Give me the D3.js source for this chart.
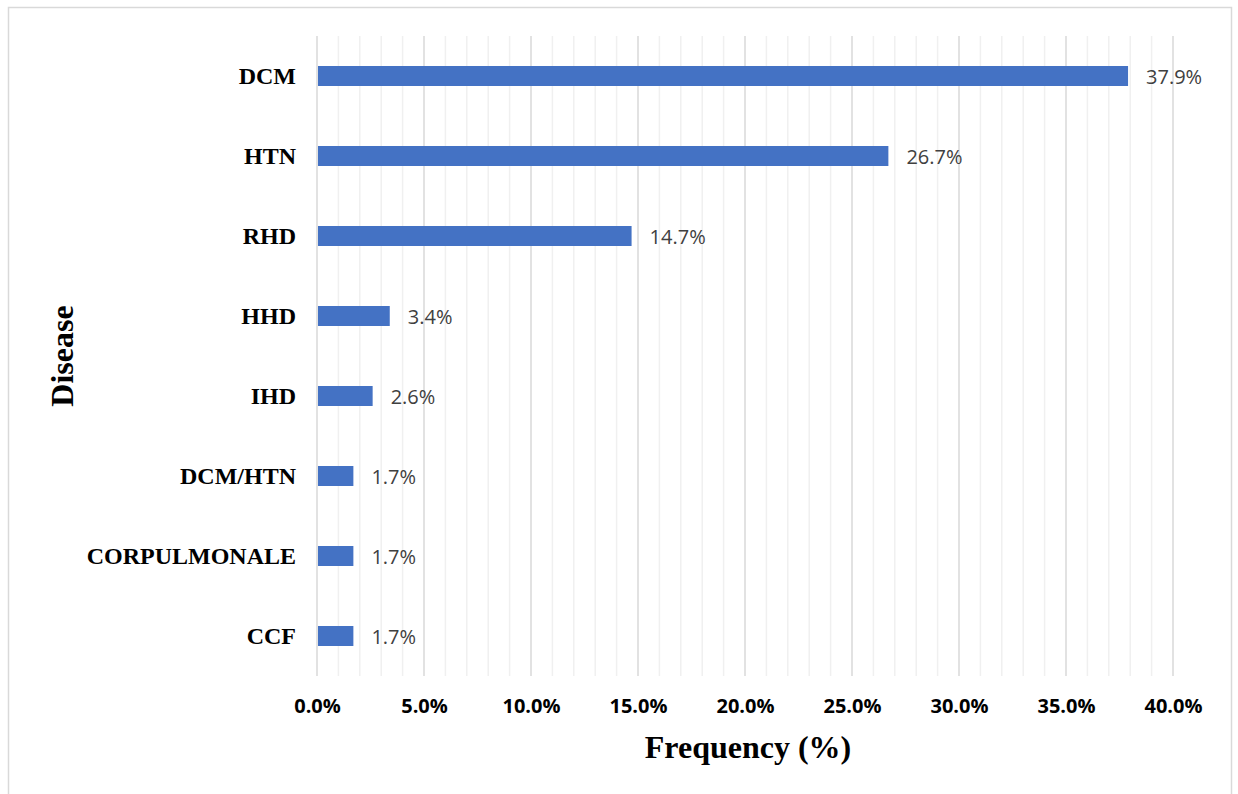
<!DOCTYPE html>
<html>
<head>
<meta charset="utf-8">
<script src="https://cdn.jsdelivr.net/npm/d3@7"></script>
<style>
  html, body { margin: 0; padding: 0; background: #fff; }
  svg { display: block; }
</style>
</head>
<body>
<svg id="chart" width="1238" height="794"></svg>
<script>
// Disease frequency (%) among patients
const categories = ["DCM", "HTN", "RHD", "HHD", "IHD", "DCM/HTN", "CORPULMONALE", "CCF"];
const frequency  = [37.9, 26.7, 14.7, 3.4, 2.6, 1.7, 1.7, 1.7];
const majorTicks = [0, 5, 10, 15, 20, 25, 30, 35, 40];
const xTitle = "Frequency (%)";
const yTitle = "Disease";

const svg = d3.select("#chart");

// outer chart frame
svg.append("rect")
  .attr("x", 8.5).attr("y", 7.5)
  .attr("width", 1223).attr("height", 800)
  .attr("fill", "none").attr("stroke", "#d9d9d9").attr("stroke-width", 1.5);

const plot = { left: 317, right: 1173, top: 36, bottom: 676 };

const x = d3.scaleLinear().domain([0, 40]).range([plot.left, plot.right]);
const y = d3.scaleBand().domain(categories).range([plot.top, plot.bottom]).paddingInner(0.75).paddingOuter(0.375);

// minor gridlines every 1%
const minor = d3.range(0, 41, 1).filter(v => v % 5 !== 0);
svg.append("g").selectAll("line").data(minor).join("line")
  .attr("x1", d => x(d)).attr("x2", d => x(d))
  .attr("y1", plot.top).attr("y2", plot.bottom)
  .attr("stroke", "#f0f0f0").attr("stroke-width", 1.5);

// major gridlines every 5%
svg.append("g").selectAll("line").data(majorTicks).join("line")
  .attr("x1", d => x(d)).attr("x2", d => x(d))
  .attr("y1", plot.top).attr("y2", plot.bottom)
  .attr("stroke", "#d9d9d9").attr("stroke-width", 1.5);

// bars
svg.append("g").selectAll("rect").data(categories).join("rect")
  .attr("x", x(0) + 1)
  .attr("y", d => y(d))
  .attr("width", (d, i) => x(frequency[i]) - x(0) - 1)
  .attr("height", y.bandwidth())
  .attr("fill", "#4472c4");

// value labels
svg.append("g").selectAll("text").data(categories).join("text")
  .attr("x", (d, i) => x(frequency[i]) + 18)
  .attr("y", d => y(d) + y.bandwidth() / 2 + 8)
  .attr("font-family", "'Open Sans', sans-serif")
  .attr("font-size", 20)
  .attr("fill", "#404040")
  .text((d, i) => frequency[i].toFixed(1) + "%");

// category labels
const yAxis = d3.axisLeft(y).tickSize(0).tickPadding(21);
const gy = svg.append("g").attr("transform", `translate(${plot.left},0)`).call(yAxis);
gy.select(".domain").remove();
gy.selectAll("text")
  .attr("font-family", "'Liberation Serif', 'Times New Roman', serif")
  .attr("font-weight", "bold")
  .attr("font-size", 24)
  .attr("fill", "#000")
  .attr("dy", "0.35em");

// x tick labels
const xAxis = d3.axisBottom(x).tickValues(majorTicks).tickSize(0).tickPadding(0)
  .tickFormat(d => d.toFixed(1) + "%");
const gx = svg.append("g").attr("transform", `translate(0,${plot.bottom})`).call(xAxis);
gx.select(".domain").remove();
gx.selectAll("text")
  .attr("font-family", "'Open Sans', sans-serif")
  .attr("font-weight", "bold")
  .attr("font-size", 20)
  .attr("fill", "#000")
  .attr("y", 37).attr("dy", 0);

// axis titles
svg.append("text")
  .attr("x", 748).attr("y", 758)
  .attr("text-anchor", "middle")
  .attr("font-family", "'Liberation Serif', 'Times New Roman', serif")
  .attr("font-weight", "bold")
  .attr("font-size", 32)
  .text(xTitle);

svg.append("text")
  .attr("transform", "translate(73,356) rotate(-90)")
  .attr("text-anchor", "middle")
  .attr("font-family", "'Liberation Serif', 'Times New Roman', serif")
  .attr("font-weight", "bold")
  .attr("font-size", 32)
  .text(yTitle);
</script>
</body>
</html>
